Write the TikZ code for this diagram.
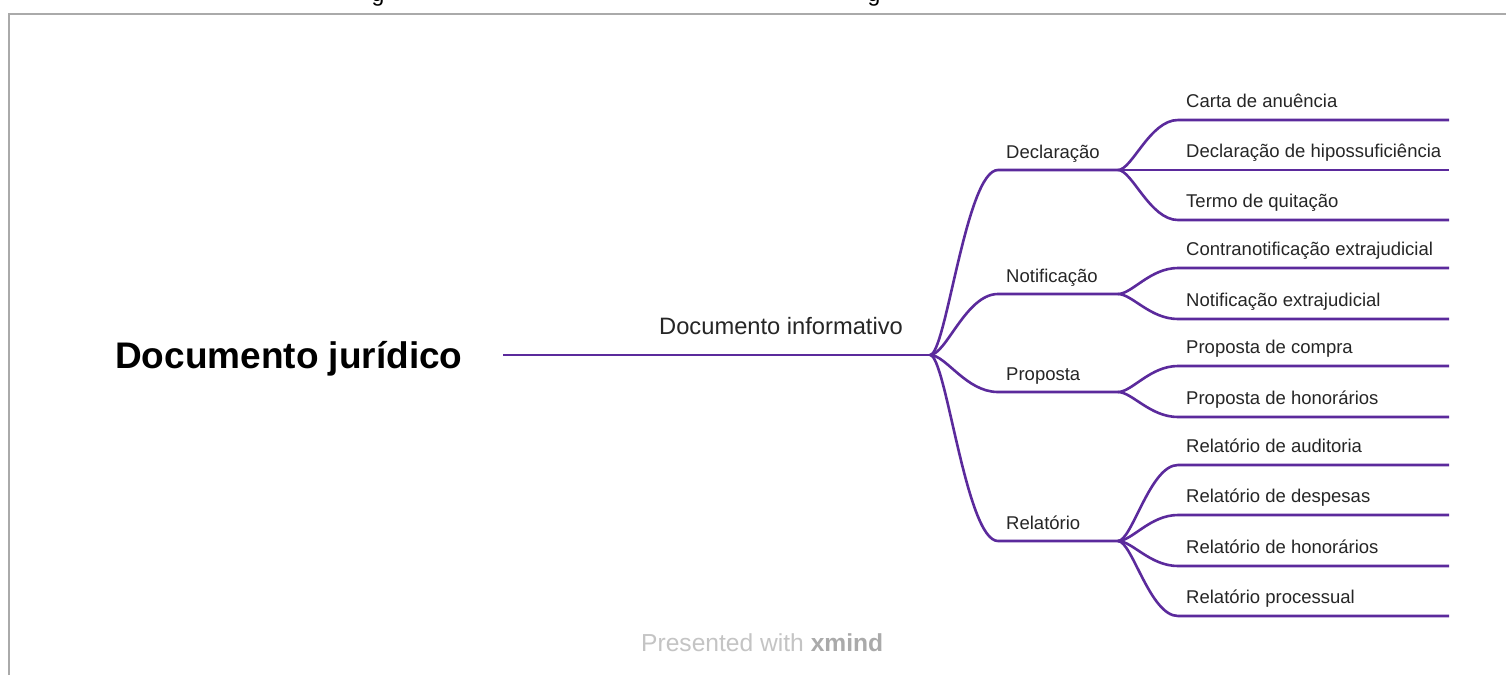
\documentclass[tikz,border=0pt]{standalone}
\usepackage{fontspec}
\setmainfont{Liberation Sans}
\usetikzlibrary{calc}
\definecolor{branchc}{RGB}{91,42,156}
\definecolor{textc}{RGB}{38,38,38}
\definecolor{framec}{RGB}{170,170,170}
\definecolor{markc}{RGB}{196,196,196}
\begin{document}
\begin{tikzpicture}[x=1pt,y=-1pt,
  branch/.style={draw=branchc,line width=2.6pt},
  frameline/.style={draw=framec,line width=2pt},
  roottext/.style={inner sep=0pt,anchor=base west,font=\fontsize{37}{40}\selectfont\bfseries,text=black},
  midtext/.style={inner sep=0pt,anchor=base west,font=\fontsize{23.7}{26}\selectfont,text=textc},
  subtext/.style={inner sep=0pt,anchor=base west,font=\fontsize{18.5}{21}\selectfont,text=textc},
  leaftext/.style={inner sep=0pt,anchor=base west,font=\fontsize{18.5}{21}\selectfont,text=textc}]
\useasboundingbox (0,0) rectangle (1506,675);
\fill[white] (0,0) rectangle (1506,675);

% page frame and the lines of text cut off above it
\draw[frameline] (9,675) -- (9,14) -- (1506,14);
\node[inner sep=0pt,anchor=base,font=\fontsize{23}{25}\selectfont] (cutA) at (378,1.2) {g};
\node[inner sep=0pt,anchor=base,font=\fontsize{23}{25}\selectfont] (cutB) at (874,1.2) {g};

% root and central topic
\node[roottext] (root) at (115,368) {Documento jurídico};
\coordinate (root-e) at (503,355);
\node[midtext] (mid) at (659,334) {Documento informativo};
\coordinate (j0) at (930,355);
\draw[branch] (root-e) -- (j0);

% second level topics: start and end of each underline
\foreach \nm/\yy in {decl/170,noti/294,prop/392,rela/541}{
  \coordinate (\nm-s) at (998,\yy);
  \coordinate (\nm-e) at (1118,\yy);
}
\node[subtext] (decl) at (1006,158) {Declaração};
\node[subtext] (noti) at (1006,282) {Notificação};
\node[subtext] (prop) at (1006,380) {Proposta};
\node[subtext] (rela) at (1006,529) {Relatório};

\foreach \nm in {decl,noti,prop,rela}{
  \draw[branch] (j0) .. controls ($(j0)+(16,0)$) and ($(\nm-s)+(-32,0)$) .. (\nm-s) -- (\nm-e);
}

% leaves: parent, name, underline y, label
\foreach \pa/\nm/\yy/\txt in {
  decl/l1/120/{Carta de anuência},
  decl/l2/170/{Declaração de hipossuficiência},
  decl/l3/220/{Termo de quitação},
  noti/l4/268/{Contranotificação extrajudicial},
  noti/l5/319/{Notificação extrajudicial},
  prop/l6/366/{Proposta de compra},
  prop/l7/417/{Proposta de honorários},
  rela/l8/465/{Relatório de auditoria},
  rela/l9/515/{Relatório de despesas},
  rela/l10/566/{Relatório de honorários},
  rela/l11/616/{Relatório processual}}{
  \coordinate (\nm-s) at (1178,\yy);
  \coordinate (\nm-e) at (1449,\yy);
  \node[leaftext] (\nm) at (1186,\yy-13) {\txt};
  \draw[branch] (\pa-e) .. controls ($(\pa-e)+(14,0)$) and ($(\nm-s)+(-28,0)$) .. (\nm-s) -- (\nm-e);
}

% watermark
\node[inner sep=0pt,anchor=base west,font=\fontsize{24.6}{27}\selectfont,text=markc] (mark) at (641,651)
  {Presented with \textbf{\color{framec}xmind}};
\end{tikzpicture}
\end{document}
